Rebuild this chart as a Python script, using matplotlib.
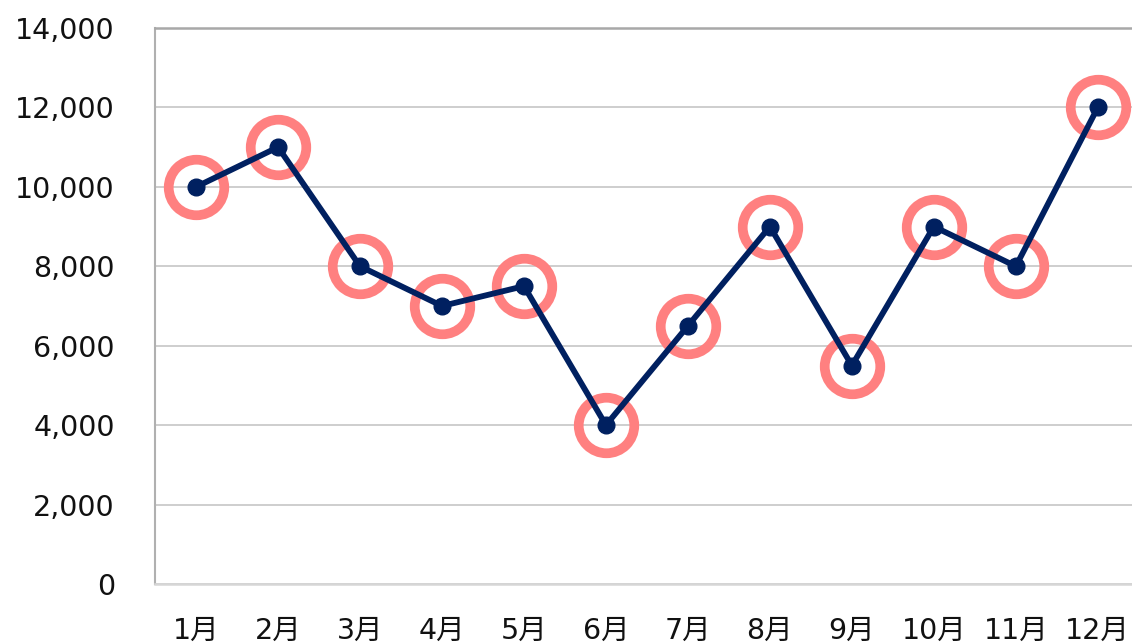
import matplotlib
matplotlib.use("Agg")
import matplotlib.pyplot as plt
from matplotlib.ticker import FuncFormatter

plt.rcParams['font.family'] = ['DejaVu Sans', 'Noto Sans CJK JP']

# データ
months = ["1月", "2月", "3月", "4月", "5月", "6月", "7月", "8月", "9月", "10月", "11月", "12月"]
values = [10000, 11000, 8000, 7000, 7500, 4000, 6500, 9000, 5500, 9000, 8000, 12000]
y_ticks = [0, 2000, 4000, 6000, 8000, 10000, 12000, 14000]

navy = "#002060"
pink = "#ff8080"

fig = plt.figure(figsize=(11.32, 6.44), dpi=100)
ax = fig.add_axes([0.137, 0.0932, 0.869, 0.8633])

x = list(range(len(months)))

# 強調の丸
ax.plot(x, values, linestyle="none", marker="o", markersize=40,
        markerfacecolor="none", markeredgecolor=pink, markeredgewidth=7,
        zorder=2, clip_on=False)
# 折れ線
ax.plot(x, values, color=navy, linewidth=4.2, marker="o", markersize=12,
        zorder=3, clip_on=False)

ax.set_xlim(-0.5, len(months) - 0.5)
ax.set_ylim(0, 14000)
ax.set_xticks(x)
ax.set_xticklabels(months)
ax.set_yticks(y_ticks)
ax.yaxis.set_major_formatter(FuncFormatter(lambda v, p: f"{int(v):,}"))

ax.grid(axis="y", color="#c6c6c6", linewidth=1.2)
ax.set_axisbelow(True)
ax.tick_params(axis="both", length=0, labelsize=20.5, colors="#111111")
ax.tick_params(axis="y", pad=29)
ax.tick_params(axis="x", pad=24)

ax.spines["right"].set_visible(False)
ax.spines["top"].set_color("#a8a8a8")
ax.spines["top"].set_linewidth(1.8)
ax.spines["left"].set_color("#b0b0b0")
ax.spines["left"].set_linewidth(1.5)
ax.spines["bottom"].set_color("#d6d6d6")
ax.spines["bottom"].set_linewidth(1.8)

fig.savefig("out.png", dpi=100)
